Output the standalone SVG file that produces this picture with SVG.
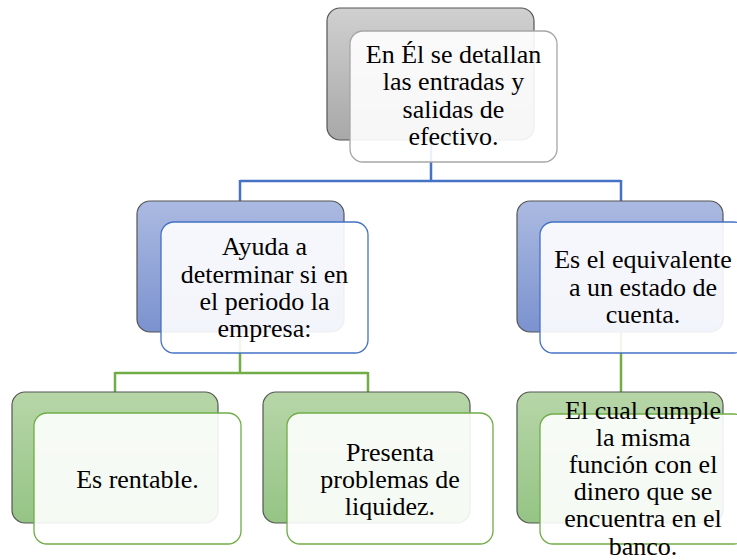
<svg xmlns="http://www.w3.org/2000/svg" width="737" height="560" viewBox="0 0 737 560">
<defs>
<linearGradient id="gGray" x1="0" y1="0" x2="0" y2="1"><stop offset="0" stop-color="#d0d0d0"/><stop offset="1" stop-color="#a8a8a8"/></linearGradient>
<linearGradient id="gBlue" x1="0" y1="0" x2="0" y2="1"><stop offset="0" stop-color="#abbae1"/><stop offset="1" stop-color="#7b92cf"/></linearGradient>
<linearGradient id="gGreen" x1="0" y1="0" x2="0" y2="1"><stop offset="0" stop-color="#b7d6a8"/><stop offset="1" stop-color="#95c485"/></linearGradient>
<style>
.back{stroke:#555;stroke-width:1.2}
.front{fill:#fff;fill-opacity:0.9;stroke-width:1.3}
.fg{stroke:#a6a6a6}
.fb{stroke:#4472c4}
.fgr{stroke:#70ad47}
.t{font-family:'Liberation Serif','Tinos','DejaVu Serif',serif;font-size:26px;fill:#000;text-anchor:middle}
.cb{fill:none;stroke:#4472c4;stroke-width:2.5}
.cg{fill:none;stroke:#70ad47;stroke-width:2.5}
</style>
</defs>
<g id="connectors">
<path class="cb" d="M431,140 V181 M240,181 H621 M240,180 V201 M621,180 V201"/>
<path class="cg" d="M240,332 V373 M115,373 H368 M115,372 V392 M368,372 V392"/>
<path class="cg" d="M621,332 V392"/>
</g>
<g id="n-top">
<rect class="back" x="327" y="8" width="207" height="132" rx="13" fill="url(#gGray)"/>
<rect class="front fg" x="350" y="31" width="207" height="131" rx="13"/>
<text class="t" font-family="Liberation Serif, serif" x="453.5" y="62.5">En Él se detallan</text>
<text class="t" font-family="Liberation Serif, serif" x="453.5" y="90">las entradas y</text>
<text class="t" font-family="Liberation Serif, serif" x="453.5" y="117.5">salidas de</text>
<text class="t" font-family="Liberation Serif, serif" x="453.5" y="145">efectivo.</text>
</g>
<g id="n-ayuda">
<rect class="back" x="137" y="201" width="207" height="131" rx="13" fill="url(#gBlue)"/>
<rect class="front fb" x="161" y="222" width="207" height="131" rx="13"/>
<text class="t" x="264.5" y="255">Ayuda a</text>
<text class="t" x="264.5" y="282.5">determinar si en</text>
<text class="t" x="264.5" y="309.5">el periodo la</text>
<text class="t" x="264.5" y="337">empresa:</text>
</g>
<g id="n-equivalente">
<rect class="back" x="517" y="201" width="206" height="131" rx="13" fill="url(#gBlue)"/>
<rect class="front fb" x="540" y="222" width="207" height="131" rx="13"/>
<text class="t" x="643" y="268">Es el equivalente</text>
<text class="t" x="643" y="295.5">a un estado de</text>
<text class="t" x="643" y="323">cuenta.</text>
</g>
<g id="n-rentable">
<rect class="back" x="12" y="392" width="206" height="131" rx="13" fill="url(#gGreen)"/>
<rect class="front fgr" x="34" y="413" width="207" height="131" rx="13"/>
<text class="t" x="137.5" y="488">Es rentable.</text>
</g>
<g id="n-liquidez">
<rect class="back" x="263" y="392" width="207" height="131" rx="13" fill="url(#gGreen)"/>
<rect class="front fgr" x="287" y="413" width="206" height="131" rx="13"/>
<text class="t" x="390" y="460.5">Presenta</text>
<text class="t" x="390" y="487.5">problemas de</text>
<text class="t" x="390" y="514.5">liquidez.</text>
</g>
<g id="n-banco">
<rect class="back" x="517" y="392" width="206" height="131" rx="13" fill="url(#gGreen)"/>
<rect class="front fgr" x="540" y="414" width="207" height="130" rx="13"/>
<text class="t" x="643" y="419">El cual cumple</text>
<text class="t" x="643" y="445.5">la misma</text>
<text class="t" x="643" y="472.5">función con el</text>
<text class="t" x="643" y="499.5">dinero que se</text>
<text class="t" x="643" y="527">encuentra en el</text>
<text class="t" x="643" y="554.5">banco.</text>
</g>
</svg>
